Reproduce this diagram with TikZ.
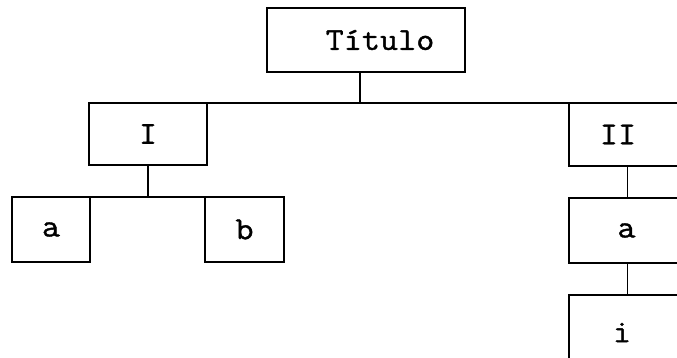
\documentclass[tikz,border=0pt]{standalone}
\usepackage{fontspec}
\setmonofont{Latin Modern Mono}[FakeStretch=1.1,FakeBold=1.2]
\usepackage{tikz}

\tikzset{
	box/.style={draw,rectangle,line width=1.5pt,inner sep=0,outer sep=0,font=\ttfamily\fontsize{32}{38}\selectfont},
	link/.style={line width=1.5pt}
}

\begin{document}
\begin{tikzpicture}[x=1pt,y=-1pt]
	\useasboundingbox (0,0) rectangle (677,358);
	\clip (0,0) rectangle (677,358);
	\node[box,minimum width=198pt,minimum height=64pt] (1) at (366,40) {\hspace*{28pt}Título};
	\node[box,minimum width=118pt,minimum height=62pt] (2) at (148,134) {I};
	\node[box,minimum width=131pt,minimum height=63pt] (3) at (634.5,134.5) {II\hspace*{33pt}};
	\node[box,minimum width=78pt,minimum height=65pt] (4) at (51,229.5) {a};
	\node[box,minimum width=79pt,minimum height=65pt] (5) at (244.5,229.5) {b};
	\node[box,minimum width=131pt,minimum height=65pt] (6) at (634.5,230.5) {a\hspace*{16pt}};
	\node[box,minimum width=131pt,minimum height=75pt] (7) at (634.5,332.5) {i\hspace*{25pt}};
	\draw[link] ([xshift=-6pt]1.south) -- ([xshift=-6pt]1.south |- 2.north);
	\draw[link] (2.north east) -- (3.north west);
	\draw[link] (2.south) -- (2.south |- 4.north);
	\draw[link] (4.north east) -- (5.north west);
	\draw[link] ([xshift=-7pt]3.south) -- ([xshift=-7pt]3.south |- 6.north);
	\draw[link] ([xshift=-7pt]6.south) -- ([xshift=-7pt]6.south |- 7.north);
\end{tikzpicture}
\end{document}
